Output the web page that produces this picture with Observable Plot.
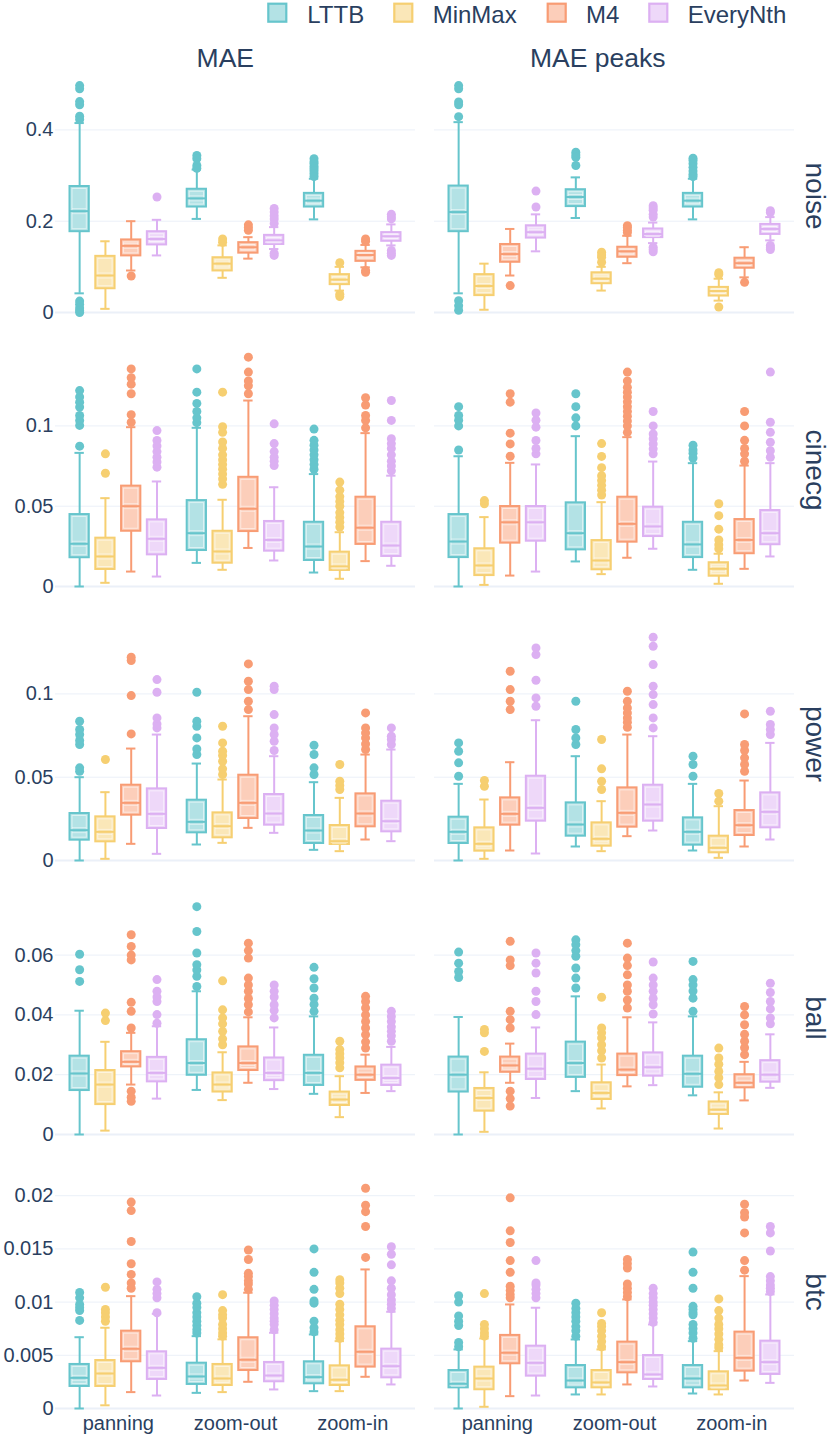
<!DOCTYPE html>
<html><head><meta charset="utf-8">
<script src="https://cdn.jsdelivr.net/npm/d3@7"></script>
<script src="https://cdn.jsdelivr.net/npm/@observablehq/plot@0.6"></script>
<style>
body{margin:0;background:#fff;}
#chart{position:relative;width:831px;height:1436px;font-family:"Liberation Sans",Arial,sans-serif;color:#2a3f5f;overflow:hidden;}
#chart svg.row{position:absolute;left:0;}
#overlay{position:absolute;left:0;top:0;pointer-events:none;}
</style></head><body><div id="chart"></div>
<script>
// ---------- categories ----------
const metrics = ["MAE", "MAE peaks"];
const scenarios = ["panning", "zoom-out", "zoom-in"];
const methods = ["LTTB", "MinMax", "M4", "EveryNth"];
const datasets = ["noise", "cinecg", "power", "ball", "btc"];
const methodColors = ["#66C5CC", "#F6CF71", "#F89C74", "#DCB0F2"];
const methodFills = ["#B3E2E5", "#FAE7B8", "#FCCEBA", "#EED8F9"];

// y tick values per dataset row
const noiseTicks = [0, 0.2, 0.4];
const cinecgTicks = [0, 0.05, 0.1];
const powerTicks = [0, 0.05, 0.1];
const ballTicks = [0, 0.02, 0.04, 0.06];
const btcTicks = [0, 0.005, 0.01, 0.015, 0.02];

// box stats [whisker low, q1, median, q3, whisker high]
// order: MAE (panning, zoom-out, zoom-in) then MAE peaks (same), each LTTB, MinMax, M4, EveryNth
const noiseBoxes = [
  [0.042,0.177,0.222,0.276,0.415],[0.008,0.052,0.081,0.123,0.156],[0.092,0.124,0.146,0.159,0.2],[0.125,0.148,0.161,0.177,0.203],
  [0.205,0.231,0.25,0.27,0.313],[0.076,0.091,0.107,0.12,0.147],[0.118,0.13,0.143,0.153,0.165],[0.139,0.149,0.158,0.169,0.187],
  [0.204,0.231,0.245,0.261,0.293],[0.048,0.061,0.072,0.083,0.1],[0.099,0.112,0.126,0.134,0.148],[0.147,0.156,0.167,0.175,0.193],
  [0.042,0.177,0.22,0.277,0.417],[0.006,0.037,0.058,0.083,0.107],[0.081,0.11,0.128,0.149,0.183],[0.134,0.163,0.176,0.19,0.215],
  [0.207,0.232,0.253,0.269,0.296],[0.048,0.063,0.074,0.087,0.1],[0.108,0.121,0.134,0.143,0.168],[0.152,0.164,0.172,0.183,0.197],
  [0.204,0.231,0.245,0.261,0.293],[0.026,0.036,0.047,0.055,0.074],[0.077,0.097,0.108,0.119,0.143],[0.158,0.171,0.183,0.193,0.209]
];
const noiseOutliers = [
  [0.497,0.49,0.462,0.455,0.43,0.423,0.025,0.018,0.01,0.004,0.0],[],[0.08],[0.253],
  [0.344,0.337,0.322,0.316],[0.161,0.154],[0.192,0.186,0.18],[0.228,0.22,0.212,0.205,0.195,0.13,0.125],
  [0.337,0.33,0.326,0.32,0.315,0.31,0.304,0.298],[0.109,0.035,0.04],[0.161,0.156,0.092,0.088],[0.215,0.21,0.205,0.136,0.13,0.125],
  [0.497,0.49,0.461,0.455,0.429,0.026,0.015,0.005],[],[0.059],[0.231,0.266],
  [0.351,0.345,0.34,0.322],[0.132,0.126,0.121,0.11],[0.19,0.186,0.18,0.175],[0.234,0.229,0.224,0.215,0.209,0.143,0.138,0.133],
  [0.338,0.333,0.326,0.318,0.31,0.303,0.298],[0.087,0.083,0.012],[0.066],[0.223,0.219,0.147,0.142,0.138]
];

const cinecgBoxes = [
  [0,0.0179,0.0266,0.0448,0.0832],[0.0023,0.0106,0.0187,0.0301,0.055],[0.0093,0.0344,0.05,0.0625,0.0992],[0.0062,0.0197,0.0297,0.0415,0.0654],
  [0.0147,0.0224,0.0332,0.0535,0.0988],[0.0104,0.0145,0.0218,0.0344,0.054],[0.024,0.0342,0.0484,0.068,0.1158],[0.0162,0.022,0.029,0.0405,0.0618],
  [0.0087,0.0162,0.0249,0.04,0.07],[0.0048,0.01,0.0125,0.0214,0.0338],[0.0158,0.0262,0.0366,0.0556,0.0955],[0.0129,0.0187,0.0255,0.04,0.069],
  [0,0.018,0.028,0.0448,0.0811],[0.001,0.0068,0.0131,0.0235,0.0432],[0.0068,0.027,0.04,0.0498,0.077],[0.0093,0.0282,0.04,0.0498,0.076],
  [0.0156,0.0228,0.0332,0.0521,0.0936],[0.0077,0.0104,0.0162,0.0286,0.0525],[0.0179,0.0276,0.039,0.0556,0.093],[0.0235,0.0311,0.0374,0.0494,0.0778],
  [0.0104,0.018,0.0262,0.04,0.0768],[0.0017,0.0064,0.011,0.0148,0.0204],[0.011,0.0204,0.029,0.0417,0.0753],[0.0187,0.026,0.0332,0.0473,0.0768]
];
const cinecgOutliers = [
  [0.0874,0.1003,0.1034,0.1065,0.1117,0.1148,0.118,0.122],[0.0705,0.0826],[0.1023,0.107,0.12,0.126,0.13,0.1355],[0.0743,0.0775,0.0805,0.084,0.0875,0.0909,0.0971],
  [0.102,0.105,0.109,0.114,0.121,0.1355],[0.0636,0.067,0.07,0.073,0.076,0.079,0.082,0.086,0.09,0.096,0.0995,0.121],[0.12,0.125,0.128,0.1335,0.1428],[0.0753,0.078,0.0805,0.084,0.089,0.1013],
  [0.073,0.076,0.079,0.082,0.085,0.088,0.091,0.098],[0.037,0.04,0.043,0.046,0.05,0.053,0.056,0.06,0.065],[0.0988,0.1034,0.1065,0.113,0.1175],[0.072,0.075,0.078,0.082,0.086,0.089,0.092,0.1034,0.1158],
  [0.085,0.1,0.1035,0.1065,0.112],[0.0515,0.0535],[0.0811,0.0888,0.0955,0.1148,0.12],[0.0826,0.086,0.0909,0.0992,0.1035,0.108],
  [0.1,0.105,0.112,0.12],[0.057,0.06,0.063,0.066,0.069,0.074,0.081,0.089],[0.096,0.1,0.103,0.106,0.109,0.112,0.115,0.118,0.121,0.124,0.128,0.1335],[0.0826,0.0857,0.0888,0.092,0.095,0.1,0.109],
  [0.08,0.083,0.085,0.088],[0.0235,0.026,0.029,0.0357,0.0441,0.0515],[0.078,0.0826,0.086,0.091,0.1,0.109],[0.0805,0.0845,0.0898,0.096,0.1023,0.1335]
];

const powerBoxes = [
  [0,0.0122,0.0182,0.0282,0.05],[0.001,0.0112,0.0172,0.0262,0.041],[0.01,0.0272,0.0346,0.0452,0.0672],[0.004,0.0192,0.028,0.043,0.0756],
  [0.0096,0.0166,0.0232,0.0362,0.0582],[0.0106,0.0136,0.0206,0.0286,0.0486],[0.0196,0.0252,0.0346,0.0512,0.0866],[0.0166,0.0212,0.0282,0.0396,0.0626],
  [0.0064,0.0102,0.018,0.027,0.047],[0.0056,0.0096,0.0116,0.021,0.0376],[0.0126,0.0202,0.0282,0.04,0.0636],[0.0116,0.0172,0.0236,0.0356,0.0666],
  [0,0.0102,0.0172,0.026,0.046],[0.001,0.0056,0.01,0.0196,0.0366],[0.006,0.0212,0.028,0.0376,0.059],[0.0042,0.0236,0.0316,0.0506,0.0842],
  [0.0084,0.0146,0.0216,0.0346,0.0626],[0.0056,0.0086,0.013,0.0226,0.0356],[0.0146,0.02,0.0286,0.0436,0.0756],[0.018,0.0236,0.0336,0.0452,0.0746],
  [0.006,0.0092,0.0172,0.0256,0.046],[0.0016,0.0046,0.0076,0.0146,0.0326],[0.0084,0.015,0.0212,0.03,0.048],[0.0126,0.0196,0.0292,0.0406,0.0706]
];
const powerOutliers = [
  [0.0536,0.0556,0.0696,0.072,0.0756,0.0786,0.0836],[0.0606],[0.076,0.099,0.12,0.122],[0.0796,0.082,0.0856,0.101,0.1086],
  [0.0636,0.067,0.0736,0.0806,0.0836,0.101],[0.0516,0.055,0.0596,0.063,0.0656,0.0706,0.0806],[0.0906,0.0956,0.1026,0.1076,0.118],[0.066,0.0716,0.0756,0.0796,0.0876,0.1026,0.1046],
  [0.0516,0.0556,0.0636,0.0692],[0.0426,0.045,0.0476,0.0576],[0.0666,0.07,0.0736,0.0766,0.0796,0.0886],[0.0696,0.0726,0.0746,0.0796],
  [0.0506,0.0586,0.0656,0.0706],[0.0446,0.048],[0.0906,0.0956,0.1026,0.1136],[0.0926,0.0976,0.1082,0.1236,0.1276],
  [0.0696,0.0736,0.0786,0.0956],[0.0426,0.0476,0.055,0.0726],[0.08,0.083,0.0856,0.0886,0.0916,0.0956,0.1016],[0.0796,0.0856,0.0936,0.0996,0.1046,0.1176,0.1286,0.134],
  [0.0506,0.0576,0.0626],[0.0356,0.0402],[0.0536,0.0576,0.0616,0.066,0.0696,0.088],[0.0756,0.0786,0.0816,0.0896]
];

const ballBoxes = [
  [0,0.0147,0.0204,0.0262,0.0414],[0.0013,0.01,0.0167,0.0214,0.031],[0.0167,0.0226,0.0243,0.0277,0.034],[0.012,0.0176,0.0206,0.0258,0.0362],
  [0.0149,0.0198,0.0239,0.0317,0.0479],[0.0115,0.0142,0.0167,0.0206,0.0275],[0.0173,0.0214,0.0239,0.0293,0.0392],[0.0152,0.018,0.0206,0.0256,0.0358],
  [0.0136,0.0164,0.0206,0.0265,0.0395],[0.0058,0.0097,0.0117,0.0142,0.0195],[0.0139,0.0181,0.02,0.0226,0.0267],[0.0145,0.0164,0.0189,0.0232,0.0293],
  [0,0.0142,0.02,0.0259,0.0393],[0.0009,0.0078,0.0122,0.0154,0.0208],[0.0173,0.0208,0.0231,0.0259,0.0304],[0.0122,0.0184,0.022,0.0269,0.0358],
  [0.0145,0.0191,0.0239,0.0309,0.0462],[0.0087,0.0117,0.0139,0.0173,0.0234],[0.0161,0.0197,0.0217,0.0269,0.0392],[0.0165,0.0195,0.0225,0.0273,0.0375],
  [0.0131,0.0158,0.0203,0.0262,0.0395],[0.002,0.0067,0.0083,0.0109,0.0141],[0.0114,0.0156,0.0173,0.02,0.0243],[0.0156,0.0175,0.02,0.0247,0.0335]
];
const ballOutliers = [
  [0.0512,0.0551,0.0603],[0.0381,0.0406],[0.0356,0.0412,0.0442,0.0584,0.06,0.0629,0.0668,0.0145,0.0125,0.0111],[0.0372,0.0401,0.0445,0.046,0.0479,0.0518],
  [0.0495,0.0529,0.055,0.0568,0.0607,0.0679,0.0762],[0.03,0.032,0.0345,0.037,0.039,0.0417,0.0514],[0.041,0.0434,0.0455,0.0479,0.05,0.0523,0.059,0.0615,0.064],[0.039,0.0415,0.0434,0.046,0.0479,0.05],
  [0.0412,0.0435,0.0456,0.049,0.0521,0.0559],[0.0223,0.024,0.0256,0.027,0.0284,0.0312],[0.0289,0.031,0.0334,0.0356,0.0378,0.04,0.0423,0.0445,0.0462],[0.0312,0.033,0.0345,0.036,0.0378,0.0395,0.0412],
  [0.0525,0.0545,0.0573,0.061],[0.0278,0.034,0.0351],[0.0356,0.0384,0.0412,0.0565,0.0584,0.0646,0.0145,0.012,0.0095],[0.0401,0.0445,0.0479,0.054,0.0573,0.0607],
  [0.049,0.0523,0.0557,0.0596,0.0615,0.0635,0.0651],[0.0256,0.028,0.03,0.0323,0.034,0.0356,0.0459],[0.0423,0.045,0.0479,0.05,0.0534,0.0565,0.059,0.064],[0.0403,0.0434,0.0455,0.0479,0.05,0.0523,0.0577],
  [0.0412,0.0456,0.048,0.05,0.0518,0.0579],[0.0167,0.019,0.0211,0.0235,0.0256,0.0289],[0.0267,0.029,0.0312,0.0335,0.0367,0.04,0.0428],[0.037,0.039,0.042,0.0445,0.0475,0.0506]
];

const btcBoxes = [
  [0,0.00207,0.00288,0.00414,0.0067],[0.0003,0.00207,0.00329,0.00451,0.00759],[0.00154,0.00439,0.00561,0.00727,0.01056],[0.00122,0.00273,0.00382,0.00533,0.0089],
  [0.00147,0.00226,0.00301,0.00426,0.0068],[0.00154,0.00216,0.00282,0.00414,0.0065],[0.00251,0.00357,0.00458,0.00665,0.01088],[0.00179,0.00251,0.0031,0.00433,0.00712],
  [0.00163,0.00232,0.00295,0.00439,0.00696],[0.00163,0.00216,0.0027,0.00401,0.00633],[0.00298,0.00389,0.00533,0.00768,0.01307],[0.00226,0.00288,0.00398,0.00558,0.00909],
  [0,0.00194,0.00232,0.00357,0.00555],[0.00016,0.00176,0.00282,0.00389,0.00658],[0.00116,0.0042,0.00524,0.00687,0.00978],[0.00122,0.00304,0.00429,0.00586,0.00947],
  [0.00132,0.00194,0.00263,0.00404,0.00649],[0.00132,0.00194,0.00245,0.00357,0.00555],[0.00226,0.00335,0.00436,0.00624,0.01025],[0.00207,0.00273,0.0032,0.00498,0.0079],
  [0.00141,0.00194,0.00282,0.00404,0.00633],[0.00132,0.00176,0.00216,0.00345,0.00539],[0.00263,0.00351,0.00476,0.00718,0.01244],[0.00241,0.0032,0.00436,0.00633,0.01072]
];
const btcOutliers = [
  [0.00828,0.0092,0.00947,0.00978,0.0104,0.0109],[0.0082,0.0086,0.009,0.0093,0.0114],[0.0113,0.0118,0.0126,0.0136,0.0157,0.0186,0.0194],[0.009,0.0104,0.0108,0.0112,0.0119],
  [0.0071,0.0074,0.0078,0.0082,0.0086,0.009,0.0095,0.0099,0.0105],[0.0068,0.0071,0.0075,0.0079,0.0085,0.0088,0.0092,0.0107],[0.0112,0.0117,0.012,0.0124,0.0127,0.014,0.0149],[0.0074,0.0079,0.0082,0.0085,0.0089,0.0093,0.0097,0.0101],
  [0.0072,0.0076,0.0082,0.0099,0.0101,0.0112,0.0128,0.015],[0.0066,0.007,0.0074,0.0079,0.0083,0.0088,0.0093,0.0098,0.0108,0.0113,0.0118,0.0121],[0.0142,0.0171,0.0185,0.0191,0.0207],[0.0094,0.0098,0.0102,0.0107,0.0113,0.012,0.0135,0.0145,0.0152],
  [0.0058,0.0062,0.0078,0.0082,0.0087,0.01,0.0106],[0.0068,0.0071,0.0075,0.0079,0.0108],[0.0104,0.0107,0.0111,0.0115,0.0128,0.0139,0.0156,0.0167,0.0198],[0.0104,0.0108,0.0112,0.0116,0.0118,0.0139],
  [0.0068,0.0073,0.0077,0.0082,0.0086,0.009,0.0094,0.0099],[0.0058,0.0063,0.0068,0.0073,0.0077,0.008,0.009],[0.0105,0.0109,0.0113,0.0117,0.0132,0.0136,0.014],[0.0081,0.0085,0.0089,0.0093,0.0097,0.01,0.0104,0.0108,0.0113],
  [0.0066,0.0071,0.0075,0.0079,0.0088,0.009,0.0093,0.0096,0.0113,0.0128,0.0147],[0.0057,0.006,0.0065,0.007,0.0075,0.0079,0.0085,0.0092,0.0103],[0.013,0.0139,0.0165,0.018,0.0184,0.0192],[0.011,0.0113,0.0116,0.012,0.0124,0.0148,0.0165,0.0171]
];

const rowBoxes = [noiseBoxes, cinecgBoxes, powerBoxes, ballBoxes, btcBoxes];
const rowOutliers = [noiseOutliers, cinecgOutliers, powerOutliers, ballOutliers, btcOutliers];
const rowTicks = [noiseTicks, cinecgTicks, powerTicks, ballTicks, btcTicks];

// ---------- layout (pixels) ----------
const W = 831;
const rowPitch = 274, firstTop = 62, zeroY = 250;
const pxPerUnit = [456.5, 1606, 1666, 2990, 10640];
const groupOffset = 0.22, boxHalf = 0.0823, capHalf = 0.04;
const textColor = "#2a3f5f", gridColor = "#EBF0F8";
const font = '"Liberation Sans", Arial, sans-serif';

const chart = document.getElementById("chart");

datasets.forEach((name, r) => {
  const boxes = rowBoxes[r], outs = rowOutliers[r];
  const table = [], dots = [];
  let i = 0;
  for (const m of metrics) for (let s = 0; s < scenarios.length; s++) for (let j = 0; j < methods.length; j++) {
    const [lo, q1, med, q3, hi] = boxes[i];
    const x = s + (j - 1.5) * groupOffset;
    table.push({metric: m, j, x, lo, q1, med, q3, hi});
    for (const v of outs[i]) dots.push({metric: m, j, x, v});
    i++;
  }
  const last = r === datasets.length - 1;
  const H = last ? 282 : rowPitch;
  const k = pxPerUnit[r];
  const top = zeroY / k;
  const col = d => methodColors[d.j];
  const lite = d => methodFills[d.j];
  const xl = d => d.x - boxHalf, xr = d => d.x + boxHalf;
  const svg = Plot.plot({
    width: W, height: H,
    marginLeft: 54.5, marginRight: 36.7, marginTop: 0, marginBottom: H - zeroY,
    style: {fontFamily: font, fontSize: "20px", color: textColor, background: "none", overflow: "visible"},
    fx: {domain: metrics, paddingInner: 0.0514, paddingOuter: 0, axis: null, label: null},
    x: {domain: [-0.536, 2.536], axis: last ? "bottom" : null, ticks: [0, 1, 2],
        tickFormat: t => scenarios[t], tickSize: 0, tickPadding: 7, label: null},
    y: {domain: [0, top], range: [zeroY, 0], ticks: rowTicks[r], tickFormat: t => String(t),
        tickSize: 0, tickPadding: 2, label: null},
    marks: [
      Plot.ruleY(rowTicks[r].filter(t => t > 0), {stroke: gridColor, strokeWidth: 1}),
      Plot.ruleY([0], {stroke: gridColor, strokeWidth: 2}),
      Plot.ruleX(table, {fx: "metric", x: "x", y1: "lo", y2: "q1", stroke: col, strokeWidth: 2}),
      Plot.ruleX(table, {fx: "metric", x: "x", y1: "q3", y2: "hi", stroke: col, strokeWidth: 2}),
      Plot.ruleY(table, {fx: "metric", y: "lo", x1: d => d.x - capHalf, x2: d => d.x + capHalf, stroke: col, strokeWidth: 2}),
      Plot.ruleY(table, {fx: "metric", y: "hi", x1: d => d.x - capHalf, x2: d => d.x + capHalf, stroke: col, strokeWidth: 2}),
      Plot.rect(table, {fx: "metric", x1: xl, x2: xr, y1: "q1", y2: "q3", fill: lite, stroke: col, strokeWidth: 2}),
      Plot.rect(table, {fx: "metric", x1: xl, x2: xr, y1: "q1", y2: "q3", fill: "none", stroke: "white", strokeOpacity: 0.55, strokeWidth: 1, inset: 2.5}),
      Plot.ruleY(table, {fx: "metric", y: "med", x1: xl, x2: xr, dy: -2.5, stroke: "white", strokeOpacity: 0.5, strokeWidth: 1, insetLeft: 2.5, insetRight: 2.5}),
      Plot.ruleY(table, {fx: "metric", y: "med", x1: xl, x2: xr, dy: 2.5, stroke: "white", strokeOpacity: 0.5, strokeWidth: 1, insetLeft: 2.5, insetRight: 2.5}),
      Plot.ruleY(table, {fx: "metric", y: "med", x1: xl, x2: xr, stroke: col, strokeWidth: 2}),
      Plot.dot(dots, {fx: "metric", x: "x", y: "v", r: 4.5, fill: col, stroke: "none"})
    ]
  });
  svg.classList.add("row");
  svg.style.top = (firstTop + r * rowPitch) + "px";
  chart.appendChild(svg);
});

// ---------- overlay: legend, column titles, row labels ----------
const NS = "http://www.w3.org/2000/svg";
const ov = document.createElementNS(NS, "svg");
ov.setAttribute("id", "overlay");
ov.setAttribute("width", W);
ov.setAttribute("height", 1436);
ov.setAttribute("font-family", font);
ov.setAttribute("fill", textColor);
function txt(str, attrs) {
  const t = document.createElementNS(NS, "text");
  for (const [a, v] of Object.entries(attrs)) t.setAttribute(a, v);
  t.textContent = str;
  ov.appendChild(t);
  return t;
}
const legendSwatchX = [268.3, 394.3, 547.7, 649.3];
const legendTextX = [307.3, 432.7, 586, 687.7];
methods.forEach((m, j) => {
  const rc = document.createElementNS(NS, "rect");
  rc.setAttribute("x", legendSwatchX[j]); rc.setAttribute("y", 3.7);
  rc.setAttribute("width", 18); rc.setAttribute("height", 18);
  rc.setAttribute("fill", methodFills[j]); rc.setAttribute("stroke", methodColors[j]);
  rc.setAttribute("stroke-width", 2.2);
  ov.appendChild(rc);
  txt(m, {x: legendTextX[j], y: 22.7, "font-size": 24});
});
const titleX = [225.3, 597.7];
metrics.forEach((m, c) => txt(m, {x: titleX[c], y: 66.7, "font-size": 26.5, "text-anchor": "middle"}));
datasets.forEach((d, r) => {
  const cy = firstTop + r * rowPitch + zeroY - 116;
  txt(d, {transform: `translate(805.5,${cy}) rotate(90)`, "font-size": 28, "text-anchor": "middle"});
});
chart.appendChild(ov);
</script>
</body></html>
